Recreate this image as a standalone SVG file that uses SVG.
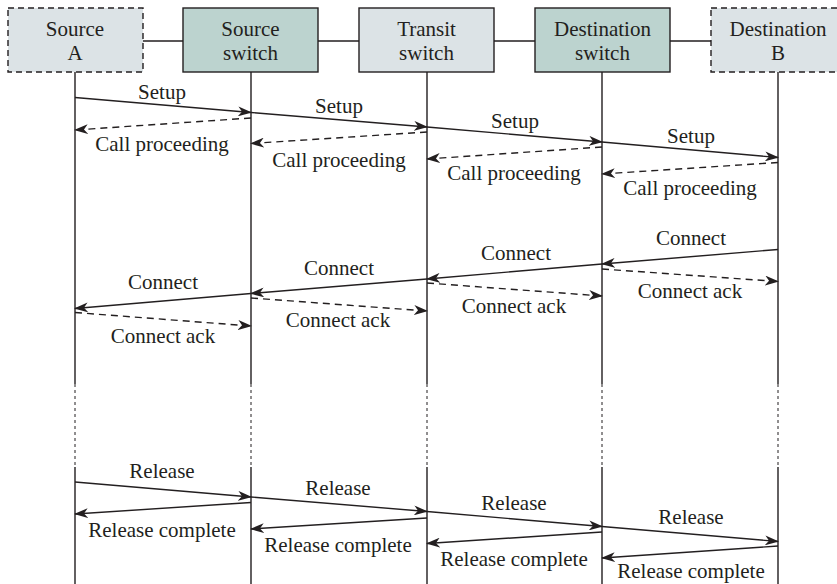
<svg xmlns="http://www.w3.org/2000/svg" width="837" height="584" viewBox="0 0 837 584">
<defs>
<style>
text{font-family:"Liberation Serif","Times New Roman",serif;font-size:21px;fill:#231f20;text-anchor:middle}
.box{stroke:#231f20;stroke-width:1.4}
.light{fill:#dce3e6}
.dark{fill:#bcd3cf}
.dash{stroke-dasharray:6 4}
.link{stroke:#231f20;stroke-width:1.4;fill:none}
.life{stroke:#231f20;stroke-width:1.4;fill:none}
.lifed{stroke:#231f20;stroke-width:1;stroke-dasharray:3 3;fill:none}
.msg{stroke:#231f20;stroke-width:1.4;fill:none;marker-end:url(#ah)}
.msgd{stroke:#231f20;stroke-width:1.4;fill:none;stroke-dasharray:7 5;marker-end:url(#ah)}
</style>
<marker id="ah" viewBox="0 0 14 10" refX="13" refY="5" markerWidth="14" markerHeight="10" markerUnits="userSpaceOnUse" orient="auto">
<path d="M0,0 L14,5 L0,10 L4,5 Z" fill="#231f20"/>
</marker>
</defs>
<g id="lifelines">
<path class="life" d="M75,72V384M75,467V584M251,72V384M251,467V584M427,72V384M427,467V584M602,72V384M602,467V584M778,72V384M778,467V584"/>
<path class="lifed" d="M75,384V467M251,384V467M427,384V467M602,384V467M778,384V467"/>
</g>
<g id="links">
<path class="link" d="M143,41H183M318,41H359M494,41H535M670,41H711"/>
</g>
<g id="node-source-a">
<rect class="box light dash" x="8" y="8" width="135" height="64"/>
<text x="75" y="36">Source</text><text x="75" y="60">A</text>
</g>
<g id="node-source-switch">
<rect class="box dark" x="183" y="8" width="135" height="64"/>
<text x="250.5" y="36">Source</text><text x="250.5" y="60">switch</text>
</g>
<g id="node-transit-switch">
<rect class="box light" x="359" y="8" width="135" height="64"/>
<text x="426.5" y="36">Transit</text><text x="426.5" y="60">switch</text>
</g>
<g id="node-destination-switch">
<rect class="box dark" x="535" y="8" width="135" height="64"/>
<text x="602.5" y="36">Destination</text><text x="602.5" y="60">switch</text>
</g>
<g id="node-destination-b">
<rect class="box light dash" x="711" y="8" width="135" height="64"/>
<text x="778" y="36">Destination</text><text x="778" y="60">B</text>
</g>
<g id="connectors">
<line class="msg" x1="75" y1="97.5" x2="251" y2="112.5"/>
<line class="msgd" x1="251" y1="118" x2="75" y2="130"/>
<line class="msg" x1="251" y1="112.5" x2="427" y2="127"/>
<line class="msgd" x1="427" y1="132" x2="251" y2="143.5"/>
<line class="msg" x1="427" y1="127" x2="602" y2="142"/>
<line class="msgd" x1="602" y1="147" x2="427" y2="159"/>
<line class="msg" x1="602" y1="142" x2="778" y2="157.5"/>
<line class="msgd" x1="778" y1="162.5" x2="602" y2="174"/>

<line class="msg" x1="778" y1="249.5" x2="602" y2="264"/>
<line class="msgd" x1="602" y1="269" x2="778" y2="281.5"/>
<line class="msg" x1="602" y1="264" x2="427" y2="279"/>
<line class="msgd" x1="427" y1="283" x2="602" y2="296"/>
<line class="msg" x1="427" y1="279" x2="251" y2="293.5"/>
<line class="msgd" x1="251" y1="298" x2="427" y2="311"/>
<line class="msg" x1="251" y1="293.5" x2="75" y2="308.5"/>
<line class="msgd" x1="75" y1="312.5" x2="251" y2="326"/>

<line class="msg" x1="75" y1="482" x2="251" y2="497"/>
<line class="msg" x1="251" y1="502.5" x2="75" y2="514"/>
<line class="msg" x1="251" y1="497" x2="427" y2="511.5"/>
<line class="msg" x1="427" y1="518" x2="251" y2="529"/>
<line class="msg" x1="427" y1="511.5" x2="602" y2="526.5"/>
<line class="msg" x1="602" y1="532" x2="427" y2="543.5"/>
<line class="msg" x1="602" y1="526.5" x2="778" y2="541.5"/>
<line class="msg" x1="778" y1="546" x2="602" y2="558"/>
</g>
<g id="labels">
<text x="162" y="99">Setup</text>
<text x="162" y="151">Call proceeding</text>
<text x="339" y="113">Setup</text>
<text x="339" y="167">Call proceeding</text>
<text x="515" y="128">Setup</text>
<text x="514" y="180">Call proceeding</text>
<text x="691" y="143">Setup</text>
<text x="690" y="195">Call proceeding</text>

<text x="691" y="245">Connect</text>
<text x="690" y="298">Connect ack</text>
<text x="516" y="260">Connect</text>
<text x="514" y="313">Connect ack</text>
<text x="339" y="275">Connect</text>
<text x="338" y="327">Connect ack</text>
<text x="163" y="289">Connect</text>
<text x="163" y="343">Connect ack</text>

<text x="162" y="478">Release</text>
<text x="162" y="537">Release complete</text>
<text x="338" y="495">Release</text>
<text x="338" y="552">Release complete</text>
<text x="514" y="510">Release</text>
<text x="514" y="566">Release complete</text>
<text x="691" y="524">Release</text>
<text x="691" y="578">Release complete</text>
</g>
</svg>
